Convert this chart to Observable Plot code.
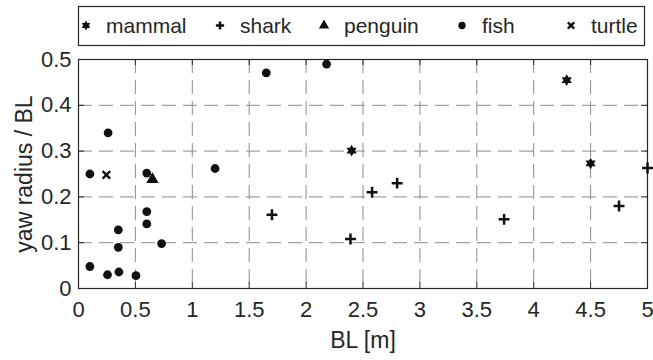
<!DOCTYPE html>
<html>
<head>
<meta charset="utf-8">
<script src="https://cdn.jsdelivr.net/npm/d3@7"></script>
<script src="https://cdn.jsdelivr.net/npm/@observablehq/plot@0.6"></script>
<style>
  html, body { margin: 0; padding: 0; background: #fff; }
  #chart { width: 653px; height: 360px; font-family: "Liberation Sans", Arial, sans-serif; color: #262626; }
  #legend { display: block; }
</style>
</head>
<body>
<div id="chart"></div>
<script>
// Yaw turning radius (in body lengths) against body length, by animal group.
const mammal  = [[2.40, 0.301], [4.29, 0.455], [4.50, 0.273]];
const shark   = [[1.70, 0.161], [2.39, 0.108], [2.58, 0.210], [2.80, 0.230], [3.74, 0.151], [4.75, 0.180], [5.00, 0.263]];
const penguin = [[0.65, 0.238]];
const fish    = [[0.10, 0.250], [0.26, 0.340], [0.60, 0.252], [1.20, 0.262], [0.60, 0.168], [0.60, 0.141],
                 [0.35, 0.128], [0.35, 0.090], [0.73, 0.098], [0.10, 0.048], [0.255, 0.030], [0.355, 0.036],
                 [0.505, 0.028], [1.65, 0.471], [2.18, 0.490]];
const turtle  = [[0.245, 0.248]];

const xTicks = [0, 0.5, 1, 1.5, 2, 2.5, 3, 3.5, 4, 4.5, 5];
const yTicks = [0, 0.1, 0.2, 0.3, 0.4, 0.5];
const groupNames = ["mammal", "shark", "penguin", "fish", "turtle"];

// Filled six-pointed star (two overlapping triangles).
const hexagram = {
  draw(context, size) {
    const r = Math.sqrt(size / Math.PI);
    for (const phase of [-Math.PI / 2, Math.PI / 2]) {
      for (let i = 0; i < 3; ++i) {
        const a = phase + (i * 2 * Math.PI) / 3;
        const px = r * Math.cos(a), py = r * Math.sin(a);
        if (i === 0) context.moveTo(px, py); else context.lineTo(px, py);
      }
      context.closePath();
    }
  }
};

const ink = "#111";
const styles = {
  mammal:  {symbol: hexagram, r: 5.8, fill: ink, stroke: "none"},
  shark:   {symbol: "plus", r: 3.6, fill: "none", stroke: ink, strokeWidth: 2.5},
  penguin: {symbol: "triangle", r: 4.6, fill: ink, stroke: "none"},
  fish:    {symbol: "circle", r: 4.4, fill: ink, stroke: "none"},
  turtle:  {symbol: "times", r: 3.5, fill: "none", stroke: ink, strokeWidth: 2.3}
};
const series = {mammal, shark, penguin, fish, turtle};

const fmt = d3.format("~g");
const W = 653, H = 312;
const mL = 78, mR = 6, mT = 11, mB = 72;
const frameH = H - mT - mB, frameW = W - mL - mR;
const gridStyle = {stroke: "#8c8c8c", strokeOpacity: 1, strokeWidth: 1, strokeDasharray: "14,7"};
const axisInk = "#262626";

// Legend strip above the plot
const chart = d3.select("#chart");
const legend = chart.append("svg").attr("id", "legend").attr("width", W).attr("height", 48);
legend.append("rect")
  .attr("x", 78.5).attr("y", 6.5).attr("width", 566).attr("height", 39)
  .attr("fill", "#fff").attr("stroke", axisInk).attr("stroke-width", 1.2);
const legendX = [86, 220, 324, 462, 571];
const symbolTypes = {mammal: hexagram, shark: d3.symbolPlus, penguin: d3.symbolTriangle, fish: d3.symbolCircle, turtle: d3.symbolTimes};
const legendSize = {mammal: 75, shark: 24, penguin: 45, fish: 42, turtle: 28};
groupNames.forEach((name, i) => {
  const s = styles[name];
  legend.append("path")
    .attr("transform", `translate(${legendX[i]},${25.5})`)
    .attr("d", d3.symbol(symbolTypes[name], legendSize[name])())
    .attr("fill", s.fill)
    .attr("stroke", s.stroke)
    .attr("stroke-width", s.strokeWidth || 0);
  legend.append("text")
    .attr("x", legendX[i] + 20).attr("y", 33)
    .attr("font-size", 21).attr("fill", axisInk)
    .attr("font-family", "Liberation Sans, Arial, sans-serif")
    .text(name);
});

const dots = groupNames.map(name => {
  const s = styles[name];
  return Plot.dot(series[name], {x: d => d[0], y: d => d[1], ...s});
});

const plot = Plot.plot({
  width: W,
  height: H,
  marginLeft: mL,
  marginRight: mR,
  marginTop: mT,
  marginBottom: mB,
  style: {fontFamily: "Liberation Sans, Arial, sans-serif", fontSize: "22px", color: axisInk, background: "#fff", overflow: "visible"},
  x: {domain: [0, 5]},
  y: {domain: [0, 0.5]},
  marks: [
    Plot.gridX(xTicks, gridStyle),
    Plot.gridY(yTicks, gridStyle),
    // inward tick marks on all four sides
    Plot.ruleX(xTicks, {x: d => d, insetTop: frameH - 6, stroke: axisInk}),
    Plot.ruleX(xTicks, {x: d => d, insetBottom: frameH - 6, stroke: axisInk}),
    Plot.ruleY(yTicks, {y: d => d, insetRight: frameW - 6, stroke: axisInk}),
    Plot.ruleY(yTicks, {y: d => d, insetLeft: frameW - 6, stroke: axisInk}),
    Plot.axisX(xTicks, {tickSize: 0, tickPadding: 13, tickFormat: fmt, fontSize: 22, label: null}),
    Plot.axisX({ticks: [], tickSize: 0, fontSize: 23,
      label: "BL [m]", labelAnchor: "center", labelOffset: 59, labelArrow: "none"}),
    Plot.axisY(yTicks, {tickSize: 0, tickPadding: 7, tickFormat: fmt, fontSize: 22, label: null}),
    Plot.axisY({ticks: [], tickSize: 0, fontSize: 23,
      label: "yaw radius / BL", labelAnchor: "center", labelOffset: 63, labelArrow: "none"}),
    Plot.frame({stroke: axisInk, strokeWidth: 1.2}),
    ...dots
  ]
});
chart.node().appendChild(plot);
</script>
</body>
</html>
